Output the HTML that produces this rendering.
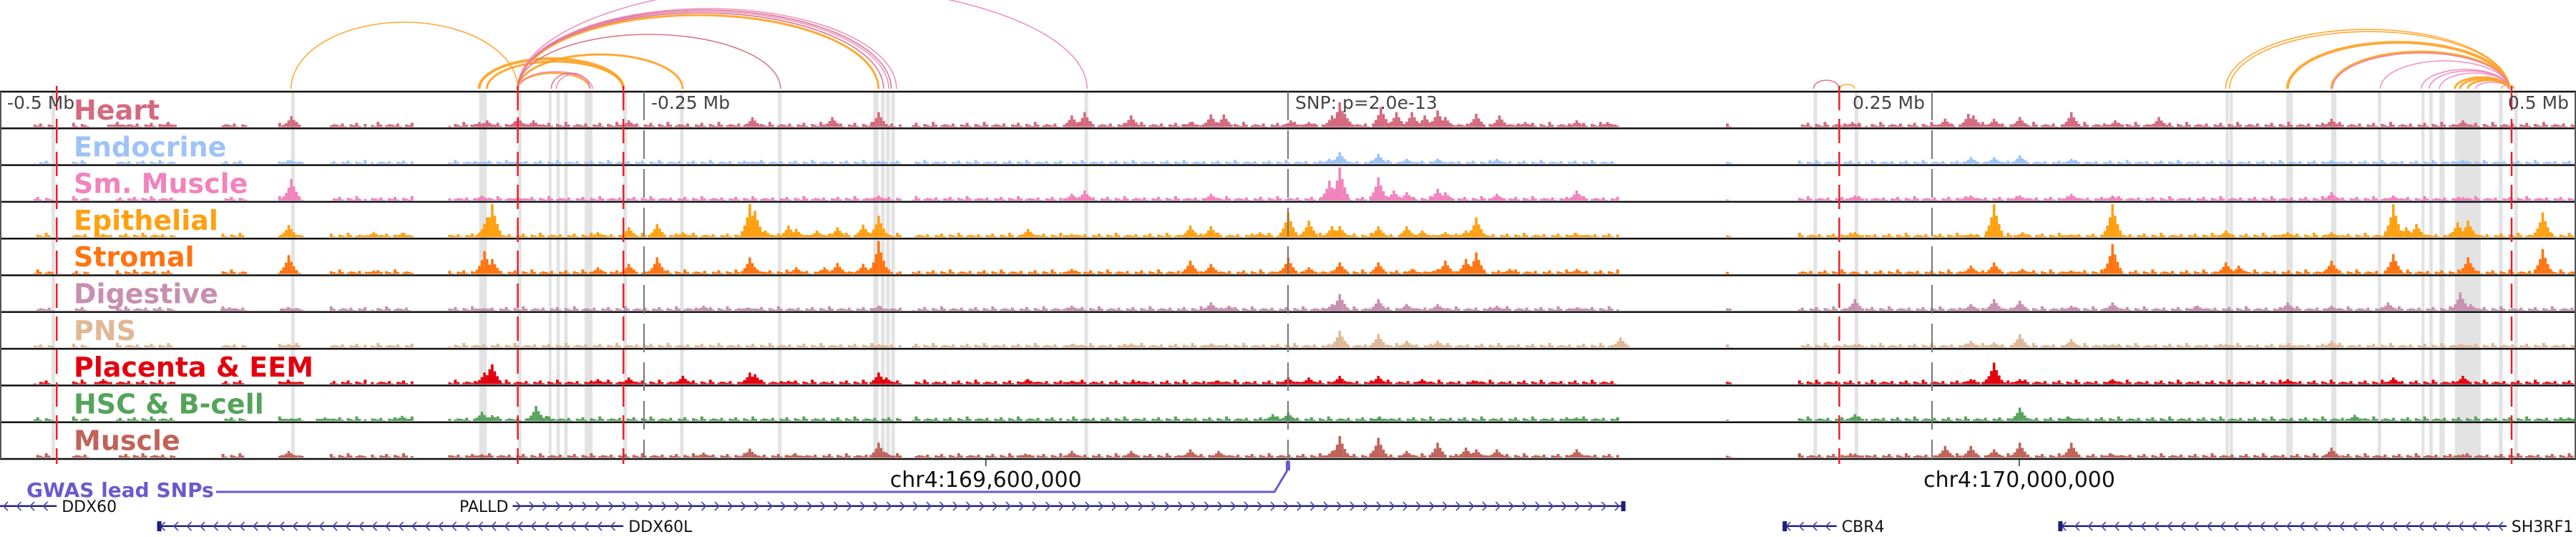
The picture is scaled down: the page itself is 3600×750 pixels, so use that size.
<!DOCTYPE html>
<html><head><meta charset="utf-8">
<style>
html,body{margin:0;padding:0;background:#fff;}
svg{display:block;}
text{font-family:"DejaVu Sans","Liberation Sans",sans-serif;}
</style></head>
<body>
<svg id="chart" width="3600" height="750" viewBox="0 0 3600 750" xmlns="http://www.w3.org/2000/svg">
<g id="hl"></g>
<g id="arcs"></g>
<g id="tracks"></g>
<g id="vlines"></g>
<g id="labels"></g>
<g id="axis"></g>
<g id="genes"></g>
</svg>
<script>
// ---- data (positions in kb relative to lead SNP) ----
const trackNames = ["Heart","Endocrine","Sm. Muscle","Epithelial","Stromal","Digestive","PNS","Placenta & EEM","HSC & B-cell","Muscle"];
const trackColors = ["#d46a7e","#9ec3f7","#f183bd","#ffa010","#ff7410","#c78fb0","#e0b896","#e3000f","#55a35b","#c0635a"];
const trackBgLevel = [0.07,0.05,0.06,0.06,0.06,0.06,0.06,0.06,0.06,0.06];
const bgRegions = [[-487,-480],[-472,-466],[-455,-432],[-414,-405],[-392,-383],[-372,-358],[-356,-340],[-326,-150],[-146,-88],[-86,128],[170,172],[198,222],[224,500]];
const bgPattern = [1,0.6,1.5,0.3,0,1.1,0.8,1.8,0.5,0,1.3,0.9,0.4,2.2,1,0,0.7,1.2];
const heartPeaks = [[-455,0.08],[-435,0.12],[-387,0.33],[-314,0.15],[-311,0.2],[-299,0.3],[-293,0.2],[-256,0.2],[-208,0.3],[-177,0.3],[-159,0.45],[-84,0.35],[-79,0.45],[-61,0.35],[-38,0.15],[-30,0.38],[-25,0.38],[1,0.2],[8,0.15],[17,0.35],[20,0.75],[22,0.4],[36,0.6],[42,0.45],[48,0.45],[53,0.35],[58,0.5],[61,0.3],[73,0.4],[82,0.35],[92,0.15],[112,0.2],[124,0.15],[219,0.15],[255,0.25],[264,0.4],[266,0.35],[274,0.25],[284,0.3],[304,0.45],[321,0.2],[338,0.3],[405,0.25],[456,0.2]];
const endocrinePeaks = [[-387,0.1],[-313,0.06],[-299,0.05],[-208,0.06],[-159,0.08],[16,0.15],[20,0.35],[35,0.3],[46,0.15],[58,0.15],[81,0.15],[265,0.2],[274,0.2],[284,0.25],[304,0.15],[405,0.1],[456,0.12]];
const smMusclePeaks = [[-387,0.65],[-313,0.15],[-299,0.1],[-159,0.15],[-84,0.2],[-79,0.3],[-30,0.2],[16,0.6],[20,1.0],[35,0.7],[41,0.3],[46,0.25],[58,0.35],[61,0.25],[81,0.2],[112,0.3],[220,0.15],[265,0.15],[284,0.15],[304,0.2],[320,0.15],[405,0.25],[429,0.15],[456,0.1]];
const epithelialPeaks = [[-460,0.1],[-388,0.37],[-355,0.15],[-344,0.12],[-312,0.4],[-311,0.6],[-309,1.0],[-268,0.15],[-256,0.3],[-245,0.4],[-235,0.15],[-209,1.0],[-207,0.8],[-203,0.2],[-194,0.35],[-191,0.25],[-183,0.2],[-175,0.3],[-165,0.38],[-159,0.65],[-101,0.25],[-84,0.1],[-38,0.35],[-30,0.33],[-11,0.15],[0,0.75],[8,0.5],[17,0.33],[20,0.33],[35,0.33],[46,0.33],[52,0.2],[61,0.15],[69,0.2],[73,0.6],[112,0.1],[220,0.15],[265,0.1],[274,1.0],[285,0.15],[304,0.08],[320,1.0],[364,0.2],[388,0.15],[405,0.15],[429,1.0],[434,0.3],[438,0.4],[454,0.45],[458,0.5],[487,0.75]];
const stromalPeaks = [[-388,0.57],[-355,0.1],[-312,0.69],[-309,0.45],[-268,0.2],[-256,0.3],[-245,0.5],[-209,0.5],[-207,0.2],[-191,0.2],[-180,0.2],[-175,0.33],[-165,0.3],[-159,1.0],[-84,0.15],[-38,0.4],[-30,0.3],[-3,0.1],[0,0.5],[8,0.2],[20,0.35],[35,0.35],[48,0.15],[58,0.15],[61,0.4],[69,0.45],[73,0.65],[86,0.15],[112,0.15],[265,0.25],[274,0.35],[285,0.15],[304,0.1],[320,0.9],[364,0.35],[369,0.25],[405,0.4],[429,0.6],[458,0.5],[487,0.75]];
const digestivePeaks = [[-411,0.1],[-388,0.1],[-312,0.05],[-227,0.15],[-209,0.08],[-159,0.15],[-84,0.15],[-30,0.25],[-23,0.15],[17,0.2],[20,0.5],[35,0.35],[46,0.2],[58,0.2],[81,0.15],[112,0.1],[220,0.35],[265,0.2],[274,0.35],[284,0.3],[304,0.15],[320,0.25],[353,0.15],[388,0.25],[405,0.15],[427,0.25],[455,0.55],[459,0.2]];
const pnsPeaks = [[-388,0.1],[-159,0.1],[-84,0.1],[-61,0.12],[-30,0.12],[20,0.5],[35,0.4],[46,0.2],[58,0.2],[129,0.3],[220,0.1],[265,0.2],[274,0.15],[284,0.4],[304,0.25],[320,0.1],[364,0.1],[388,0.1],[405,0.2],[455,0.1]];
const placentaPeaks = [[-460,0.15],[-388,0.1],[-312,0.35],[-310,0.45],[-309,0.6],[-268,0.15],[-256,0.2],[-235,0.25],[-209,0.35],[-207,0.3],[-194,0.1],[-159,0.35],[-156,0.2],[-101,0.15],[-84,0.1],[-58,0.1],[-28,0.1],[0,0.2],[8,0.2],[20,0.25],[35,0.25],[52,0.15],[73,0.1],[265,0.15],[273,0.4],[274,0.65],[284,0.15],[320,0.15],[388,0.15],[429,0.2],[456,0.25]];
const hscPeaks = [[-388,0.05],[-374,0.1],[-344,0.15],[-313,0.27],[-309,0.17],[-292,0.45],[-288,0.15],[-6,0.2],[0,0.25],[35,0.1],[112,0.1],[220,0.2],[284,0.4],[303,0.12],[414,0.18],[497,0.1]];
const musclePeaks = [[-388,0.2],[-313,0.1],[-227,0.15],[-209,0.27],[-192,0.1],[-159,0.45],[-156,0.15],[-102,0.12],[-84,0.2],[-61,0.2],[-38,0.25],[-27,0.2],[17,0.2],[20,0.65],[35,0.6],[46,0.2],[58,0.45],[69,0.3],[73,0.25],[81,0.25],[112,0.25],[220,0.12],[255,0.35],[265,0.35],[274,0.25],[284,0.45],[304,0.45],[320,0.1],[405,0.3],[456,0.1]];
const trackPeaks = [heartPeaks,endocrinePeaks,smMusclePeaks,epithelialPeaks,stromalPeaks,digestivePeaks,pnsPeaks,placentaPeaks,hscPeaks,musclePeaks];

const highlightStart = [-480,-387,-314,-299,-287,-284,-281,-273,-258,-236,-198,-161,-158,-156,-154,-79,204,220,364,365.5,387.5,405,423,440,443,447,453,470,476];
const highlightEnd   = [-478.6,-385.6,-311,-297.6,-286,-282.6,-279.6,-270,-256.6,-234.6,-196.6,-159,-156.6,-154.6,-152.6,-77.6,205.4,221.4,365.2,366.8,390,407,424.4,441.2,444.4,449,463,471.6,477.4];

const redMarkers = [-478,-299,-258,214,475];
const axisTicksKb = [-500,-250,0,250,500];
const axisTickLabels = ["-0.5 Mb","-0.25 Mb","SNP: p=2.0e-13","0.25 Mb","0.5 Mb"];
const axisTickAnchor = ["start","start","start","end","end"];

const arcStart = [-387,-314,-311,-299,-299,-299,-299,-299,-299,-299,-299,-299,-299,-286,-284,204,214,364,365.5,388,405,405.5,424,440,443,447,453,455,458,461,471];
const arcEnd   = [-299,-258,-258,-235,-159,-157,-155,-154,-152,-78,-197,-271,-270,-271,-271,214,220,474,474,474,474,474,474,474,474,474,474,474,474,474,476];
const arcHeight= [93,42,38,48,103,106,108,110,112,145,76,22,24,22,20,12,6,83,80,65,52,50,39,27,25,22,16,14,12,9,5];
const arcColor = ["#ffa020","#ffa020","#ffa020","#ffa020","#ffa020","#d46a7e","#f183bd","#d46a7e","#f183bd","#f183bd","#d46a7e","#ffa020","#f183bd","#d46a7e","#f183bd","#d46a7e","#ffa020","#ffa020","#ffa020","#ffa020","#ffa020","#e67aa8","#f183bd","#f183bd","#f183bd","#f183bd","#ffa020","#ffa020","#ffa020","#f183bd","#ffa020"];
const arcWidth = [1.6,4,3,3,3,1.6,1.6,1.6,1.6,1.6,1.6,2.5,1.6,1.6,1.6,1.6,1.6,1.6,1.6,4,3,1.6,1.6,1.6,1.6,1.6,3,3,3,1.6,1.6];

const geneNames = ["DDX60","PALLD","DDX60L","CBR4","SH3RF1"];
const geneStart = [-500,-301,-439,192,299];
const geneEnd = [-478,131,-258,213,473];
const geneRow = [0,0,1,1,1];
const geneStrand = ["-","+","-","-","-"];
const geneLabelSide = ["right","left","right","right","right"];

const snpKb = 0;
const chrTickKb = [-117.3,283.9];
const chrTickLabels = ["chr4:169,600,000","chr4:170,000,000"];
const gwasLabel = "GWAS lead SNPs";

// ---- scales ----
const NS="http://www.w3.org/2000/svg";
const X = kb => 1800 + kb*3.6;
const T0 = 128, TH = 51.3, MAXH = 46;
const trackTop = i => T0 + i*TH;
function el(tag, attrs, parent){const e=document.createElementNS(NS,tag);for(const k in attrs)e.setAttribute(k,attrs[k]);parent.appendChild(e);return e;}

// highlights
const hl=document.getElementById('hl');
highlightStart.forEach((s,i)=>{
  const r=el('rect',{x:X(s),y:T0,width:Math.max(4,X(highlightEnd[i])-X(s)),height:TH*10,fill:'#e3e3e3'},hl);
  
  
});

// arcs
const arcs=document.getElementById('arcs');
const AB=124;
arcStart.forEach((s,i)=>{
  const x1=X(s),x2=X(arcEnd[i]);const rx=(x2-x1)/2;
  const p=el('path',{d:`M${x1},${AB} A${rx},${arcHeight[i]} 0 0 1 ${x2},${AB}`,fill:'none',stroke:arcColor[i],'stroke-width':arcWidth[i],'stroke-opacity':0.9},arcs);
  
  
});

// tracks
const tg=document.getElementById('tracks');
const spread=[[-1,0.6],[1,0.65],[-2,0.35],[2,0.4],[-3,0.18],[3,0.2]];
trackNames.forEach((n,i)=>{
  const g=el('g',{},tg);
  
  
  const base=trackTop(i)+TH-2, col=trackColors[i];
  let c=i*3;
  bgRegions.forEach(r=>{
    for(let k=r[0];k<r[1];k+=1.1){
      const h=MAXH*trackBgLevel[i]*bgPattern[c++%bgPattern.length];
      if(h>0) el('rect',{x:X(k),y:base-h,width:4,height:h,fill:col},g);
    }
  });
  trackPeaks[i].forEach(p=>{
    const h=p[1]*MAXH;
    const b=el('rect',{x:X(p[0])-1.5,y:base-h,width:3.6,height:h,fill:col},g);
    
    
    spread.forEach(o=>{
      const hh=Math.max(h*o[1],MAXH*trackBgLevel[i]);
      el('rect',{x:X(p[0]+o[0])-1.5,y:base-hh,width:3.6,height:hh,fill:col},g);
    });
  });
  el('line',{x1:0,x2:3600,y1:trackTop(i)+TH,y2:trackTop(i)+TH,stroke:'#111','stroke-width':2.5},g);
});
el('line',{x1:0,x2:3600,y1:T0,y2:T0,stroke:'#111','stroke-width':2.5},tg);
el('line',{x1:1,x2:1,y1:T0,y2:T0+TH*10,stroke:'#555','stroke-width':2},tg);
el('line',{x1:3599,x2:3599,y1:T0,y2:T0+TH*10,stroke:'#555','stroke-width':2},tg);

// vertical marker lines
const vl=document.getElementById('vlines');
axisTicksKb.forEach((k,i)=>{
  if(i===0||i===4) return;
  const l=el('line',{x1:X(k),x2:X(k),y1:T0,y2:i===2?645:T0+TH*10,stroke:'#777','stroke-width':2,'stroke-dasharray':'40,14'},vl);
  
  
});
redMarkers.forEach(k=>{
  const l=el('line',{x1:X(k),x2:X(k),y1:120,y2:648,stroke:'#e8202a','stroke-width':2.5,'stroke-dasharray':'34,12'},vl);
  
  
});

// labels
const lg=document.getElementById('labels');
trackNames.forEach((n,i)=>{
  const t=el('text',{x:103,y:trackTop(i)+39,'font-size':38,'font-weight':'bold',fill:trackColors[i]},lg);
  t.textContent=n;
  
  
});

// axis labels
const ax=document.getElementById('axis');
axisTicksKb.forEach((k,i)=>{
  const x = axisTickAnchor[i]==='start' ? X(k)+10 : X(k)-10;
  const t=el('text',{x:x,y:152,'font-size':25,fill:'#444','text-anchor':axisTickAnchor[i]},ax);
  t.textContent=axisTickLabels[i];
  
  
});
chrTickKb.forEach((k,i)=>{
  el('line',{x1:X(k),x2:X(k),y1:642,y2:651,stroke:'#333','stroke-width':1.5},ax);
  const t=el('text',{x:X(k),y:680,'font-size':30,fill:'#111','text-anchor':'middle'},ax);
  t.textContent=chrTickLabels[i];
  
  
});

// GWAS
const gt=el('text',{x:37,y:694,'font-size':28,'font-weight':'bold',fill:'#6a5acd'},ax);
gt.textContent=gwasLabel;


const gp=el('polyline',{points:`302,687 ${X(snpKb)-19},687 ${X(snpKb)-1},657`,fill:'none',stroke:'#6a5acd','stroke-width':3},ax);


const gs=el('rect',{x:X(snpKb)-3,y:644,width:6,height:13,fill:'#6a5acd'},ax);



// genes
const gg=document.getElementById('genes');
const rowY=[707,735];
geneNames.forEach((n,i)=>{
  const g=el('g',{},gg);
  
  
  const x1=Math.max(0,X(geneStart[i])),x2=X(geneEnd[i]),y=rowY[geneRow[i]];
  el('line',{x1:x1,x2:x2,y1:y,y2:y,stroke:'#1f1f7a','stroke-width':2},g);
  el('line',{x1:x1,x2:x2,y1:y-1.5,y2:y-1.5,stroke:'#9a9ad0','stroke-width':1},g);
  for(let x=x1+8;x<x2-6;x+=18.5){
    const d = geneStrand[i]==='+' ? `M${x-3},${y-6} L${x+3},${y} L${x-3},${y+6}` : `M${x+3},${y-6} L${x-3},${y} L${x+3},${y+6}`;
    el('path',{d:d,fill:'none',stroke:'#4848a8','stroke-width':1.6},g);
  }
  const bx = geneStrand[i]==='+' ? x2-6 : x1;
  if(geneStart[i]>-500) el('rect',{x:bx,y:y-7,width:6,height:14,fill:'#1f1f7a'},g);
  const right=geneLabelSide[i]==='right';
  const t=el('text',{x:right?x2+7:x1-6,y:y+8,'font-size':22,fill:'#111','text-anchor':right?'start':'end'},g);
  t.textContent=n;
  
  
});
</script>
</body></html>
